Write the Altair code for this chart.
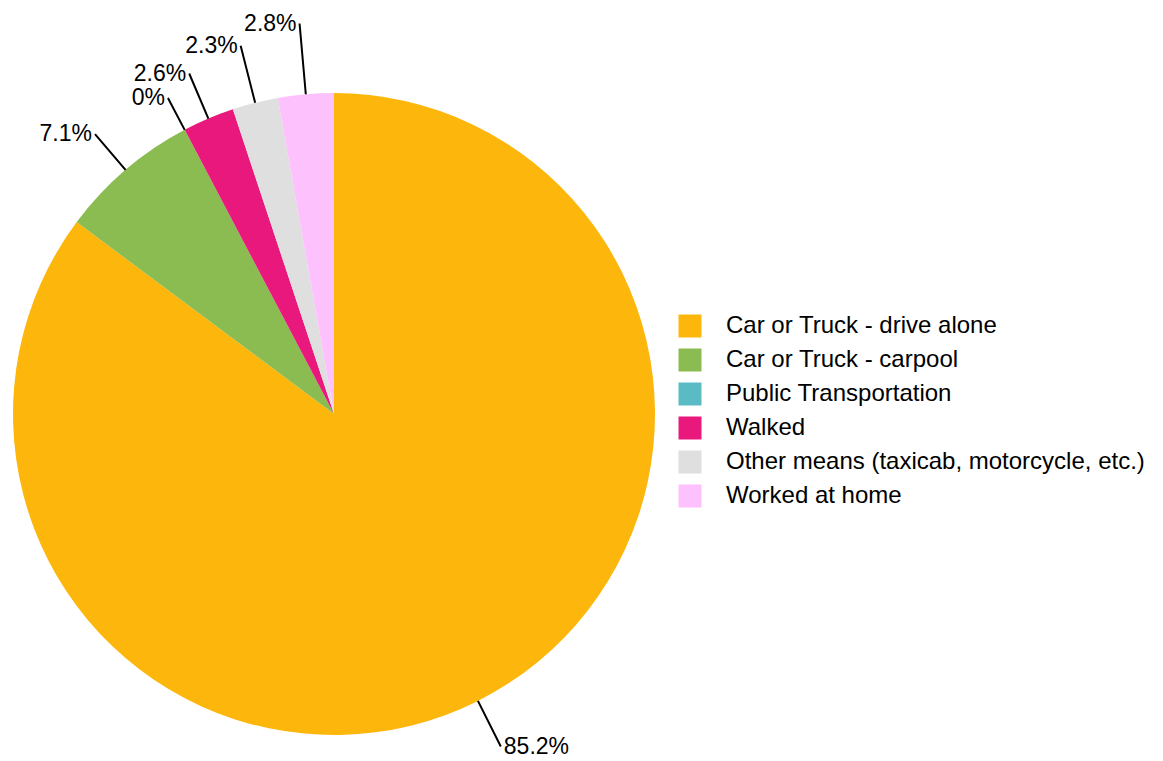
import altair as alt
import pandas as pd
import math

categories = [
    "Car or Truck - drive alone",
    "Car or Truck - carpool",
    "Public Transportation",
    "Walked",
    "Other means (taxicab, motorcycle, etc.)",
    "Worked at home",
]
values = [85.2, 7.1, 0, 2.6, 2.3, 2.8]
colors = ["#FDB60B", "#8ABC51", "#5BBBC5", "#E8187C", "#DFDFDF", "#FDC1FD"]

# layout: outer end of each label leader line (pixels from the pie centre)
leader_r = [372, 368, 357, 370, 380, 392]

df = pd.DataFrame({
    "category": categories,
    "value": values,
    "order": list(range(len(values))),
    "lr": leader_r,
})

CX, CY, R = 326, 406, 321
FONT = "Liberation Sans"

theta_scale = alt.Scale(domain=[0, 100], range=[0, 2 * math.pi])

base = alt.Chart(df).transform_window(
    end="sum(value)", sort=[alt.SortField("order")], frame=[None, 0]
).transform_calculate(
    start="datum.end - datum.value",
    mid="datum.end - datum.value / 2",
    label="datum.value + '%'",
    inner=str(R),
)

pie = base.mark_arc(radius=R, x=CX, y=CY).encode(
    theta=alt.Theta("start:Q", scale=theta_scale, stack=None),
    theta2="end:Q",
    color=alt.Color(
        "category:N",
        sort=categories,
        scale=alt.Scale(domain=categories, range=colors),
        legend=alt.Legend(
            title=None,
            orient="none",
            legendX=670,
            legendY=306,
            symbolType="square",
            symbolSize=529,
            symbolStrokeWidth=0,
            labelFont=FONT,
            labelFontSize=24,
            labelColor="#000000",
            labelOffset=24,
            rowPadding=10,
            labelLimit=600,
        ),
    ),
)

leaders = base.mark_arc(
    x=CX, y=CY, stroke="black", strokeWidth=2, filled=False
).encode(
    theta=alt.Theta("mid:Q", scale=theta_scale, stack=None),
    theta2="mid:Q",
    radius=alt.Radius("lr:Q", scale=None),
    radius2="inner:Q",
)

text_right = base.transform_filter("datum.mid < 50").mark_text(
    x=CX, y=CY, align="left", baseline="middle", dx=3,
    font=FONT, fontSize=23, color="#000000",
).encode(
    theta=alt.Theta("mid:Q", scale=theta_scale, stack=None),
    radius=alt.Radius("lr:Q", scale=None),
    text="label:N",
)

text_left = base.transform_filter("datum.mid >= 50").mark_text(
    x=CX, y=CY, align="right", baseline="middle", dx=-3,
    font=FONT, fontSize=23, color="#000000",
).encode(
    theta=alt.Theta("mid:Q", scale=theta_scale, stack=None),
    radius=alt.Radius("lr:Q", scale=None),
    text="label:N",
)

chart = alt.layer(pie, leaders, text_right, text_left).properties(
    width=1147, height=745, padding=0
).configure_view(stroke=None)

chart.save("out.html", embed_options={"renderer": "svg", "actions": False})
